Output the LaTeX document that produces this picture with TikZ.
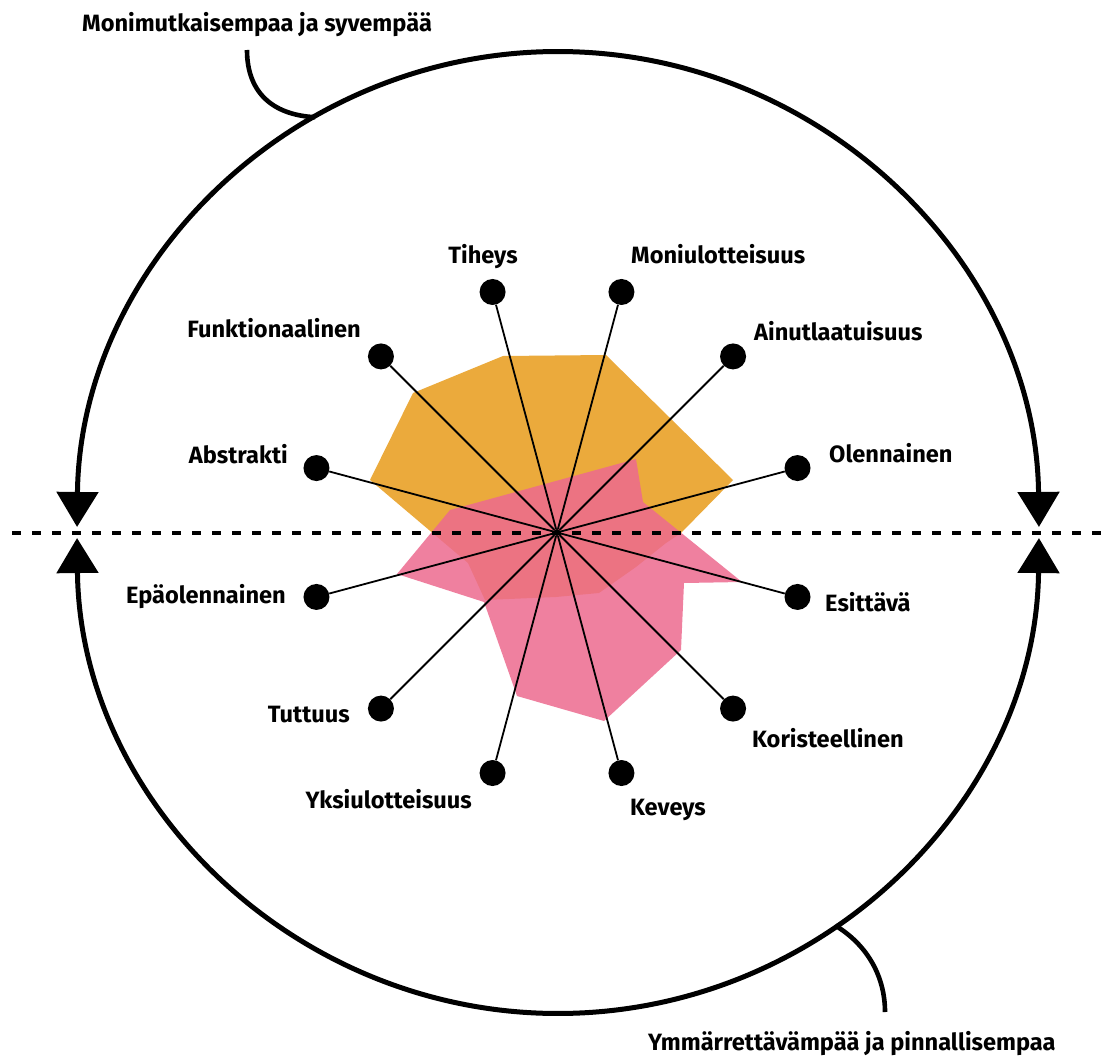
\documentclass[tikz,border=0pt]{standalone}
\usepackage{fontspec}
\setmainfont{Fira Sans}
\usetikzlibrary{arrows.meta,calc}
\definecolor{orangefill}{RGB}{235,170,60}
\definecolor{pinkfill}{RGB}{237,106,143}
\begin{document}
\begin{tikzpicture}[x=1pt,y=-1pt,
  lbl/.style={font=\fontsize{23.6}{28}\selectfont\bfseries, inner sep=0pt},
  spoke/.style={line width=1.8pt, black},
  dotnode/.style={circle, fill=black, minimum size=26pt, inner sep=0pt},
  centernode/.style={circle, fill=black, minimum size=7pt, inner sep=0pt},
  bigline/.style={line width=5pt, black},
  hookline/.style={line width=4.6pt, black},
  axisline/.style={line width=3.5pt, black, dash pattern=on 9pt off 11pt},
  bigtip/.style={{Triangle[width=41pt,length=35pt]}-{Triangle[width=41pt,length=35pt]}}
]
\useasboundingbox (0,0) rectangle (1101,1057);
\fill[white] (0,0) rectangle (1101,1057);

\coordinate (O) at (558,532.5);
\coordinate (C0) at (557,532.5);

% radar polygons
\fill[orangefill] (503,356) -- (606,355) -- (733,480) -- (681,533) -- (666,543)
  -- (636,567) -- (599,593) -- (556,597) -- (485,600) -- (468,563)
  -- (370,480) -- (413,393) -- cycle;
\fill[pinkfill, fill opacity=0.85] (450,510) -- (636,459) -- (643,502) -- (742,582)
  -- (684,583) -- (681,650) -- (604,721) -- (517,696) -- (484,602)
  -- (397,574) -- cycle;

% horizontal dashed axis
\coordinate (dL) at (12,533);
\coordinate (dR) at (1101,533);
\draw[axisline] (dL) -- (dR);

% outer circle halves with arrowheads
\draw[bigline, bigtip] (O) ++(180.66:481) arc[start angle=180.66, end angle=359.34, radius=481];
\draw[bigline, bigtip] (O) ++(179.34:481) arc[start angle=179.34, end angle=0.66, radius=481];

% hooks
\coordinate (h1) at ($(O)+(239.7:481)$);
\coordinate (h2) at ($(O)+(54.8:481)$);
\coordinate (h1s) at (247,50);
\coordinate (h2e) at (885,1012);
\draw[hookline] (h1s) .. controls (247,92) and (272,115) .. (h1);
\draw[hookline] (h2) .. controls (866,944) and (885,975) .. (h2e);

% spokes and dots
\node[centernode] (C) at (C0) {};
\foreach \nm/\ang in {ole/-15, ain/-45, mon/-75, tih/-105, fun/-135, abs/-165,
                      epa/165, tut/135, yks/105, kev/75, kor/45, esi/15} {
  \node[dotnode] (\nm) at ($(C0)+(\ang:249)$) {};
  \draw[spoke] (C) -- (\nm);
}

% labels
\node[lbl, anchor=base] (Ltih) at (483,263) {Tiheys};
\node[lbl, anchor=base west] (Lmon) at (631,263) {Moniulotteisuus};
\node[lbl, anchor=base east] (Lfun) at (361,337) {Funktionaalinen};
\node[lbl, anchor=base west] (Lain) at (754,340) {Ainutlaatuisuus};
\node[lbl, anchor=base east] (Labs) at (288,463) {Abstrakti};
\node[lbl, anchor=base west] (Lole) at (829,462) {Olennainen};
\node[lbl, anchor=base east] (Lepa) at (286,603) {Epäolennainen};
\node[lbl, anchor=base west] (Lesi) at (825,611) {Esittävä};
\node[lbl, anchor=base east] (Ltut) at (350,722) {Tuttuus};
\node[lbl, anchor=base west] (Lkor) at (752,747) {Koristeellinen};
\node[lbl, anchor=base east] (Lyks) at (472,808) {Yksiulotteisuus};
\node[lbl, anchor=base west] (Lkev) at (630,815) {Keveys};
\node[lbl, anchor=base west] (Ltop) at (82,32) {Monimutkaisempaa ja syvempää};
\node[lbl, anchor=base west] (Lbot) at (648,1050) {Ymmärrettävämpää ja pinnallisempaa};
\end{tikzpicture}
\end{document}
